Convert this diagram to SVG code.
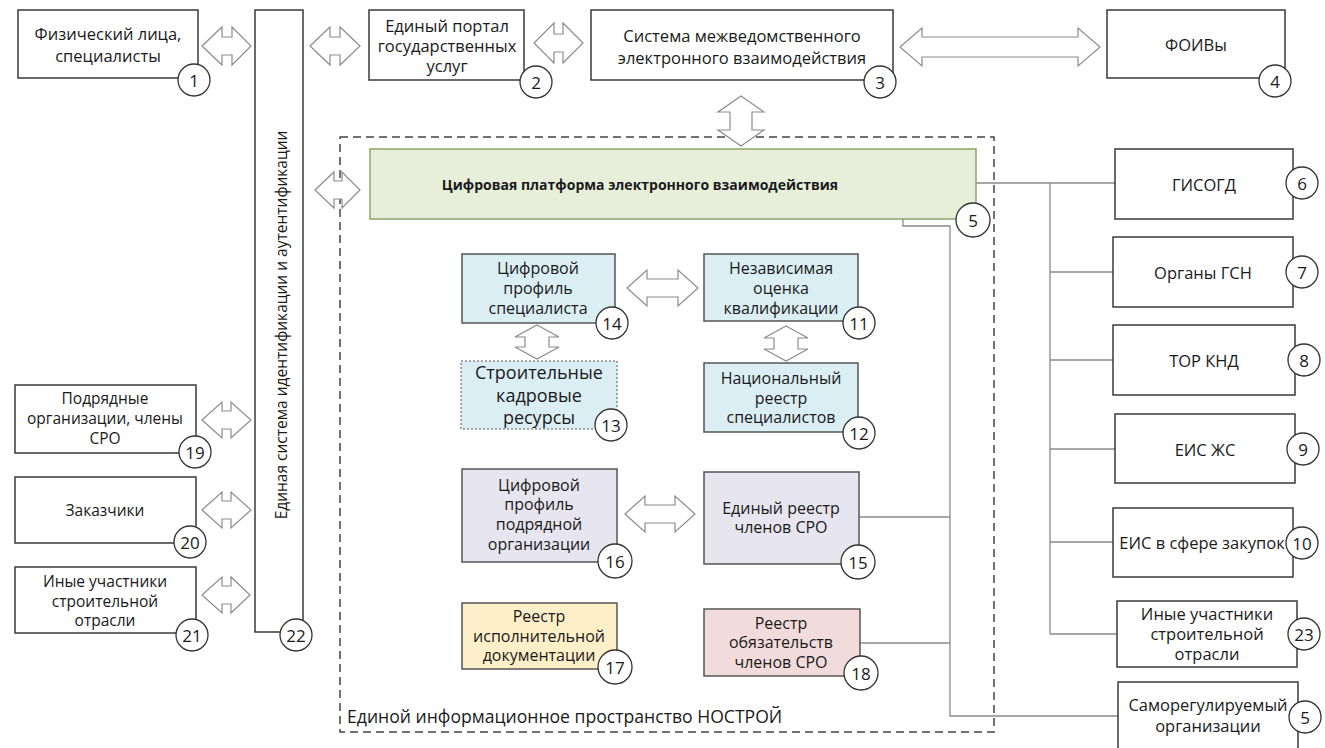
<svg xmlns="http://www.w3.org/2000/svg" width="1325" height="748" viewBox="0 0 1325 748">
<style>
text{font-family:"Open Sans","Noto Sans","Liberation Sans",sans-serif;fill:#1a1a1a;text-anchor:middle;dominant-baseline:central}
.box{fill:#fff;stroke:#3a3a3a;stroke-width:1.5}
.inb{stroke:#555;stroke-width:1.5}
.blue{fill:#dbeef4}
.lav{fill:#e7e5ef}
.yel{fill:#fdefc8}
.pink{fill:#f2dcdb}
.num{fill:#fff;stroke:#333;stroke-width:1.3}
.arr{fill:#fff;stroke:#8c8c8c;stroke-width:1.2}
.con{fill:none;stroke:#8a8a8a;stroke-width:1.3}
.t15{font-size:15.5px}
.t16{font-size:16px}
.tr{font-size:16.5px}
.n{font-size:17px}
</style>

<!-- container -->
<g id="container">
<rect x="340" y="137" width="654" height="595" fill="none" stroke="#444" stroke-width="1.5" stroke-dasharray="8 5"/>
<text x="347" y="716" style="font-size:17.6px;text-anchor:start">Единой информационное пространство НОСТРОЙ</text>
</g>

<!-- connectors -->
<g id="connectors">
<path class="con" d="M976,183 H1115 M1050,183 V634 M1050,272 H1113 M1050,360 H1113 M1050,449 H1115 M1050,542 H1113 M1050,634 H1117"/>
<path class="con" d="M903,219 V226 H950 V716 H1118 M859,517 H950 M860,643 H950"/>
<!-- block arrows -->
<path class="arr" d="M202,46 L222,27 L222,37 L232,37 L232,27 L251,46 L232,65 L232,55 L222,55 L222,65 Z"/>
<path class="arr" d="M310,46 L330,27 L330,37 L340,37 L340,27 L360,46 L340,65 L340,55 L330,55 L330,65 Z"/>
<path class="arr" d="M534,43 L554,23 L554,34 L563,34 L563,23 L583,43 L563,63 L563,52 L554,52 L554,63 Z"/>
<path class="arr" d="M900,47 L922,28 L922,37 L1078,37 L1078,28 L1100,47 L1078,66 L1078,57 L922,57 L922,66 Z"/>
<path class="arr" d="M741,96 L764,112 L752,112 L752,130 L764,130 L741,146 L718,130 L730,130 L730,112 L718,112 Z"/>
<path class="arr" d="M315,190 L334,172 L334,181 L342,181 L342,172 L360,190 L342,208 L342,199 L334,199 L334,208 Z"/>
<path class="arr" d="M627,288 L647,270 L647,279 L678,279 L678,270 L698,288 L678,306 L678,297 L647,297 L647,306 Z"/>
<path class="arr" d="M537,325 L559,337 L549,337 L549,347 L559,347 L537,359 L515,347 L525,347 L525,337 L515,337 Z"/>
<path class="arr" d="M786,326 L808,338 L798,338 L798,349 L808,349 L786,361 L764,349 L774,349 L774,338 L764,338 Z"/>
<path class="arr" d="M625,514 L645,496 L645,505 L675,505 L675,496 L695,514 L675,532 L675,523 L645,523 L645,532 Z"/>
<path class="arr" d="M202,420 L222,402 L222,411 L231,411 L231,402 L251,420 L231,438 L231,429 L222,429 L222,438 Z"/>
<path class="arr" d="M202,510 L222,492 L222,501 L231,501 L231,492 L251,510 L231,528 L231,519 L222,519 L222,528 Z"/>
<path class="arr" d="M202,595 L222,577 L222,586 L231,586 L231,577 L250,595 L231,613 L231,604 L222,604 L222,613 Z"/>
</g>

<g id="n1">
<rect class="box" x="18" y="10" width="180" height="68"/>
<text class="tr" x="108" y="33">Физический лица,</text>
<text class="tr" x="108" y="55">специалисты</text>
<circle class="num" cx="194" cy="80" r="16"/><text class="n" x="194" y="80">1</text>
</g>

<g id="n22">
<rect class="box" x="255" y="10" width="48" height="622"/>
<text class="t15" transform="translate(281,325) rotate(-90)" x="0" y="0">Единая система идентификации и аутентификации</text>
<circle class="num" cx="296" cy="635" r="16"/><text class="n" x="296" y="635">22</text>
</g>

<g id="n2">
<rect class="box" x="369" y="10" width="155" height="70"/>
<text class="tr" x="447" y="25">Единый портал</text>
<text class="tr" x="447" y="45">государственных</text>
<text class="tr" x="447" y="65">услуг</text>
<circle class="num" cx="536" cy="82" r="16"/><text class="n" x="536" y="82">2</text>
</g>

<g id="n3">
<rect class="box" x="591" y="10" width="302" height="70"/>
<text class="tr" x="742" y="35">Система межведомственного</text>
<text class="tr" x="742" y="57">электронного взаимодействия</text>
<circle class="num" cx="880" cy="82" r="16"/><text class="n" x="880" y="82">3</text>
</g>

<g id="n4">
<rect class="box" x="1107" y="10" width="178" height="68"/>
<text class="tr" x="1196" y="44">ФОИВы</text>
<circle class="num" cx="1275" cy="81" r="16"/><text class="n" x="1275" y="81">4</text>
</g>

<g id="n5">
<rect x="370" y="149" width="606" height="70" fill="#e7efdb" stroke="#8ea46b" stroke-width="1.5"/>
<text x="640" y="184" style="font-size:14px;font-weight:bold">Цифровая платформа электронного взаимодействия</text>
<circle class="num" cx="973" cy="220" r="17"/><text class="n" x="973" y="220">5</text>
</g>

<g id="n14">
<rect class="inb blue" x="462" y="254" width="153" height="69"/>
<text class="t16" x="538" y="268">Цифровой</text>
<text class="t16" x="538" y="288">профиль</text>
<text class="t16" x="538" y="308">специалиста</text>
<circle class="num" cx="612" cy="323" r="16"/><text class="n" x="612" y="323">14</text>
</g>

<g id="n11">
<rect class="inb blue" x="704" y="254" width="154" height="67"/>
<text class="t16" x="781" y="268">Независимая</text>
<text class="t16" x="781" y="288">оценка</text>
<text class="t16" x="781" y="308">квалификации</text>
<circle class="num" cx="859" cy="323" r="16"/><text class="n" x="859" y="323">11</text>
</g>

<g id="n13">
<rect class="blue" x="461" y="361" width="156" height="68" stroke="#555" stroke-width="1" stroke-dasharray="2 2"/>
<text x="539" y="372" style="font-size:18px">Строительные</text>
<text x="539" y="395" style="font-size:18px">кадровые</text>
<text x="539" y="417" style="font-size:18px">ресурсы</text>
<circle class="num" cx="611" cy="425" r="16"/><text class="n" x="611" y="425">13</text>
</g>

<g id="n12">
<rect class="inb blue" x="704" y="363" width="154" height="69"/>
<text class="t16" x="781" y="378">Национальный</text>
<text class="t16" x="781" y="398">реестр</text>
<text class="t16" x="781" y="417">специалистов</text>
<circle class="num" cx="859" cy="433" r="16"/><text class="n" x="859" y="433">12</text>
</g>

<g id="n16">
<rect class="inb lav" x="462" y="469" width="155" height="93"/>
<text class="t16" x="539" y="485">Цифровой</text>
<text class="t16" x="539" y="504">профиль</text>
<text class="t16" x="539" y="524">подрядной</text>
<text class="t16" x="539" y="544">организации</text>
<circle class="num" cx="615" cy="561" r="17"/><text class="n" x="615" y="561">16</text>
</g>

<g id="n15">
<rect class="inb lav" x="704" y="472" width="155" height="92"/>
<text class="t16" x="781" y="508">Единый реестр</text>
<text class="t16" x="781" y="527">членов СРО</text>
<circle class="num" cx="858" cy="562" r="17"/><text class="n" x="858" y="562">15</text>
</g>

<g id="n17">
<rect class="inb yel" x="462" y="603" width="155" height="66"/>
<text class="t16" x="539" y="616">Реестр</text>
<text class="t16" x="539" y="636">исполнительной</text>
<text class="t16" x="539" y="655">документации</text>
<circle class="num" cx="615" cy="667" r="17"/><text class="n" x="615" y="667">17</text>
</g>

<g id="n18">
<rect class="inb pink" x="704" y="609" width="156" height="67"/>
<text class="t16" x="781" y="623">Реестр</text>
<text class="t16" x="781" y="642">обязательств</text>
<text class="t16" x="781" y="662">членов СРО</text>
<circle class="num" cx="861" cy="673" r="17"/><text class="n" x="861" y="673">18</text>
</g>

<g id="n6">
<rect class="box" x="1115" y="149" width="178" height="70"/>
<text class="tr" x="1204" y="184">ГИСОГД</text>
<circle class="num" cx="1302" cy="183" r="16"/><text class="n" x="1302" y="183">6</text>
</g>

<g id="n7">
<rect class="box" x="1113" y="237" width="180" height="70"/>
<text class="tr" x="1203" y="272">Органы ГСН</text>
<circle class="num" cx="1302" cy="272" r="16"/><text class="n" x="1302" y="272">7</text>
</g>

<g id="n8">
<rect class="box" x="1113" y="325" width="182" height="70"/>
<text class="tr" x="1204" y="360">ТОР КНД</text>
<circle class="num" cx="1304" cy="360" r="16"/><text class="n" x="1304" y="360">8</text>
</g>

<g id="n9">
<rect class="box" x="1115" y="414" width="180" height="69"/>
<text class="tr" x="1205" y="449">ЕИС ЖС</text>
<circle class="num" cx="1303" cy="449" r="16"/><text class="n" x="1303" y="449">9</text>
</g>

<g id="n10">
<rect class="box" x="1113" y="508" width="180" height="69"/>
<text class="tr" x="1202" y="542">ЕИС в сфере закупок</text>
<circle class="num" cx="1302" cy="543" r="16"/><text class="n" x="1302" y="543">10</text>
</g>

<g id="n23">
<rect class="box" x="1117" y="601" width="180" height="66"/>
<text class="tr" x="1207" y="613">Иные участники</text>
<text class="tr" x="1207" y="633">строительной</text>
<text class="tr" x="1207" y="653">отрасли</text>
<circle class="num" cx="1304" cy="634" r="16"/><text class="n" x="1304" y="634">23</text>
</g>

<g id="n5b">
<rect class="box" x="1118" y="682" width="180" height="80"/>
<text class="tr" x="1208" y="704">Саморегулируемый</text>
<text class="tr" x="1208" y="725">организации</text>
<circle class="num" cx="1305" cy="717" r="16"/><text class="n" x="1305" y="717">5</text>
</g>

<g id="n19">
<rect class="box" x="15" y="385" width="181" height="68"/>
<text class="t15" x="105" y="398">Подрядные</text>
<text class="t15" x="105" y="418">организации, члены</text>
<text class="t15" x="105" y="438">СРО</text>
<circle class="num" cx="195" cy="452" r="16"/><text class="n" x="195" y="452">19</text>
</g>

<g id="n20">
<rect class="box" x="15" y="477" width="181" height="66"/>
<text class="t15" x="105" y="510">Заказчики</text>
<circle class="num" cx="190" cy="542" r="16"/><text class="n" x="190" y="542">20</text>
</g>

<g id="n21">
<rect class="box" x="15" y="567" width="181" height="66"/>
<text class="t15" x="105" y="581">Иные участники</text>
<text class="t15" x="105" y="601">строительной</text>
<text class="t15" x="105" y="620">отрасли</text>
<circle class="num" cx="192" cy="635" r="16"/><text class="n" x="192" y="635">21</text>
</g>
</svg>
